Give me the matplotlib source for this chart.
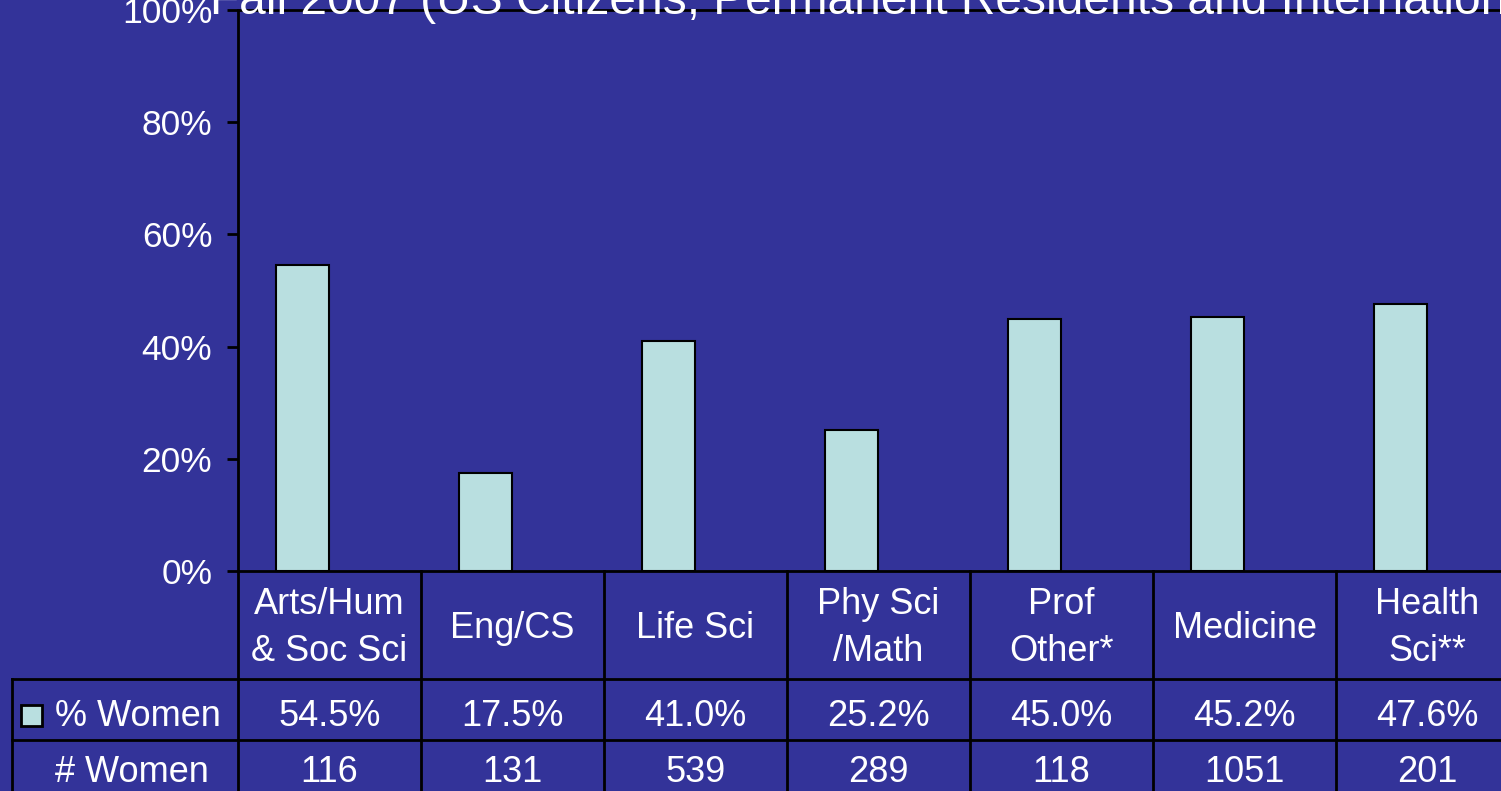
import matplotlib
matplotlib.use("Agg")
import matplotlib.pyplot as plt
import matplotlib.transforms as mtransforms
from matplotlib.lines import Line2D
from matplotlib.patches import Rectangle

plt.rcParams['font.family'] = ['Liberation Sans', 'DejaVu Sans']

# data
fields = ['Arts/Hum\n& Soc Sci', 'Eng/CS', 'Life Sci', 'Phy Sci\n/Math',
          'Prof\nOther*', 'Medicine', 'Health\nSci**']
pct_women = [54.5, 17.5, 41.0, 25.2, 45.0, 45.2, 47.6]
num_women = [116, 131, 539, 289, 118, 1051, 201]
yticks = [0, 20, 40, 60, 80, 100]
title = 'Fall 2007 (US Citizens, Permanent Residents and International Students)'

BG = '#333399'
BAR = '#B9DFE0'
W, H = 1501, 791


def fy(y):
    return 1 - y / H


fig = plt.figure(figsize=(W / 100, H / 100), dpi=100, facecolor=BG)
ax = fig.add_axes([238 / W, fy(571), 1281 / W, 561 / H])
ax.set_facecolor(BG)

# bars sit a bit left of the column centre, like the slide
x = [i - 0.29 for i in range(len(fields))]
ax.bar(x, pct_women, width=0.285, align='edge', color=BAR,
       edgecolor='black', linewidth=1.5)

ax.set_xlim(-0.5, len(fields) - 0.5)
ax.set_ylim(0, 100)
ax.set_yticks(yticks)
ax.set_yticklabels([f'{t}%' for t in yticks])
ax.tick_params(axis='y', direction='out', length=8, width=2, color='black',
               labelcolor='white', labelsize=25.5, pad=10.5)
ax.set_xticks([])
for s in ax.spines.values():
    s.set_color('black')
    s.set_linewidth(2)

# title, cut off by the top edge like the original slide
fig.text(210 / W, fy(14), title, color='white', fontsize=34.5, va='baseline', ha='left')

# table under the plot
tr = mtransforms.blended_transform_factory(ax.transData, fig.transFigure)
lw = 2
for b in range(len(fields) + 1):
    fig.add_artist(Line2D([b - 0.5, b - 0.5], [fy(571), 0], transform=tr,
                          color='black', lw=lw))
for yy in (679, 740):
    fig.add_artist(Line2D([12 / W, 1], [fy(yy), fy(yy)], color='black', lw=lw))
fig.add_artist(Line2D([12 / W, 12 / W], [fy(679), 0], color='black', lw=lw))

fs = 26
for i, name in enumerate(fields):
    fig.text(i, fy(628), name, transform=tr, color='white', fontsize=fs,
             ha='center', va='center', multialignment='center', linespacing=1.45)
    fig.text(i, fy(716), f'{pct_women[i]:.1f}%', transform=tr, color='white',
             fontsize=fs, ha='center', va='center')
    fig.text(i, fy(773), str(num_women[i]), transform=tr, color='white',
             fontsize=fs, ha='center', va='center')

fig.add_artist(Rectangle((21 / W, fy(726)), 21 / W, 21 / H, facecolor=BAR,
                         edgecolor='black', lw=2, transform=fig.transFigure))
fig.text(55 / W, fy(716), '% Women', color='white', fontsize=fs, ha='left', va='center')
fig.text(55 / W, fy(773), '# Women', color='white', fontsize=fs, ha='left', va='center')

fig.savefig('out.png', dpi=100, facecolor=BG)
